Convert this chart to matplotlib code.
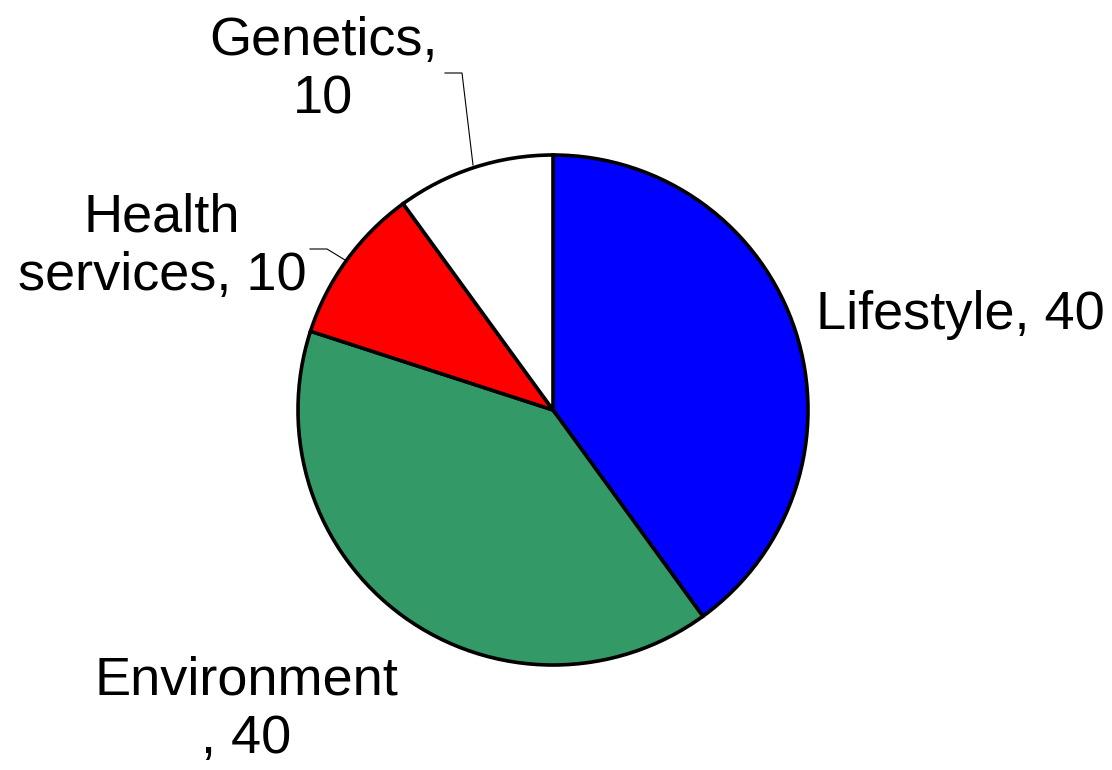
import matplotlib.pyplot as plt

labels = ["Lifestyle", "Environment", "Health\nservices", "Genetics"]
values = [40, 40, 10, 10]
colors = ["#0000FF", "#339966", "#FF0000", "#FFFFFF"]

plt.rcParams['font.family'] = ['Liberation Sans', 'DejaVu Sans']

fig = plt.figure(figsize=(11.12, 7.7), dpi=100)
ax = fig.add_axes([0, 0, 1, 1])

# pie centre and radius in pixel units
cx, cy, r = 553, 770 - 410, 255
ax.pie(values, colors=colors, startangle=90, counterclock=False,
       center=(cx, cy), radius=r, frame=True,
       wedgeprops=dict(edgecolor='black', linewidth=2.6))
ax.set_xlim(0, 1112)
ax.set_ylim(0, 770)
ax.set_aspect('equal')
ax.axis('off')

fs = 39
ax.text(960, 770 - 315, f"{labels[0]}, {values[0]}", fontsize=fs, ha='center', va='center')
ax.text(246, 770 - 710, "Environment\n, " + str(values[1]), fontsize=fs, ha='center', va='center', linespacing=1.22)
ax.text(162, 770 - 247, f"{labels[2]}, {values[2]}", fontsize=fs, ha='center', va='center', linespacing=1.22)
ax.text(323, 770 - 70, f"{labels[3]},\n{values[3]}", fontsize=fs, ha='center', va='center', linespacing=1.22)

# leader lines
ax.plot([473, 462, 445], [770 - 165, 770 - 73, 770 - 73], color='black', lw=0.8)
ax.plot([345, 327, 310], [770 - 260, 770 - 249, 770 - 249], color='black', lw=0.8)

fig.savefig("out.png", dpi=100)
